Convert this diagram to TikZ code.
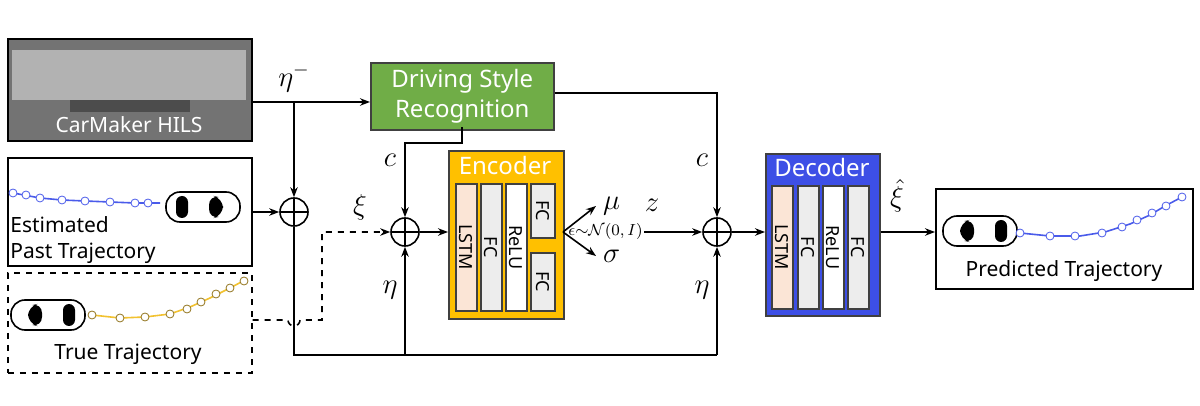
\documentclass[tikz,border=0pt]{standalone}
\usepackage{amsmath,amssymb}
\usepackage{fontspec}
\setmainfont{Noto Sans}
\usetikzlibrary{arrows.meta,positioning,calc}
\definecolor{dsrgreen}{HTML}{70AD47}
\definecolor{encyel}{HTML}{FFC000}
\definecolor{decblue}{HTML}{3D4FE6}
\definecolor{lstmpeach}{HTML}{FBE5D6}
\definecolor{fcgray}{HTML}{EDEDED}
\definecolor{trajblue}{HTML}{4A5BEA}
\definecolor{trajyel}{HTML}{F2C230}

\newcommand{\carshape}[3]{% x, y, direction (1 = facing right)
  \begin{scope}[shift={(#1,#2)}, xscale=#3]
    \draw[thick, fill=white, rounded corners=7pt] (-37,-15) rectangle (37,15);
    \fill[black, rounded corners=3pt] (-27,-11) rectangle (-15,11);
    \fill[black, rounded corners=5pt] (6,-12) -- (20,-9) -- (20,9) -- (6,12) -- cycle;
  \end{scope}}

\begin{document}
\begin{tikzpicture}[x=0.5pt, y=-0.5pt,
  every node/.style={font=\fontsize{10.5}{13}\selectfont},
  srcbox/.style={draw, thick, minimum width=122pt, minimum height=54pt, anchor=north west},
  blockbox/.style={draw=black!75, thick, anchor=north west},
  layer/.style={draw=black!75, thick, anchor=north west, minimum width=10.5pt},
  vlbl/.style={rotate=-90, font=\fontsize{9}{11}\selectfont},
  sumnode/.style={draw, circle, thick, minimum size=14pt, inner sep=0pt,
    path picture={\draw[thick] (path picture bounding box.north) -- (path picture bounding box.south)
      (path picture bounding box.west) -- (path picture bounding box.east);}},
  arr/.style={-{Stealth[length=5pt]}, thick},
  mlbl/.style={font=\fontsize{14}{16}\selectfont},
  dot/.style={circle, draw, fill=white, inner sep=0pt, minimum size=4pt},
]
  \useasboundingbox (0,0) rectangle (1200,406);

  % sources
  \node[srcbox, fill=black!55, draw=black, minimum height=51pt] (hils) at (7,38) {};
  \fill[black!30] (12,50) rectangle (246,100);
  \fill[black!70] (70,100) rectangle (190,112);
  \node[white, anchor=south] (hilstxt) at (129,140) {CarMaker HILS};
  \node[srcbox] (est) at (7,157) {};
  \node[srcbox, dashed, minimum height=50pt] (true) at (7,272) {};

  \draw[trajblue, thick] (13,193) -- (40,198) -- (62,200) -- (85,201) -- (110,202) -- (135,203) -- (160,203);
  \foreach \px/\py in {13/193,26/195,40/198,62/200,85/201,110/202,135/203,148/203}
    \node[dot, draw=trajblue] at (\px,\py) {};
  \carshape{203}{207}{1}
  \node[anchor=north west, align=left, inner sep=0pt] (esttxt) at (10,216) {Estimated\\Past Trajectory};

  \draw[trajyel, thick] (92,315) -- (120,318) -- (145,317) -- (170,314) -- (190,307) -- (210,298) -- (230,288) -- (245,280);
  \foreach \px/\py in {92/315,120/318,145/317,170/314,187/309,201/302,216/294,230/288,244/281}
    \node[dot, draw=black!40!trajyel] at (\px,\py) {};
  \carshape{48}{315}{-1}
  \node (truetxt) at (128,354) {True Trajectory};

  % driving style recognition
  \node[blockbox, fill=dsrgreen, text=white, minimum width=91.5pt, minimum height=32.5pt,
        align=center, font=\fontsize{12}{15}\selectfont] (dsr) at (370,62) {Driving Style\\Recognition};

  % sums
  \node[sumnode] (sum1) at (294,212) {};
  \node[sumnode] (sum2) at (405,232) {};
  \node[sumnode] (sum3) at (717,232) {};

  % encoder
  \node[blockbox, fill=encyel, minimum width=57.5pt, minimum height=84pt] (enc) at (448,150) {};
  \node[text=white, font=\fontsize{12}{14}\selectfont] (enctxt) at (505,166) {Encoder};
  \node[layer, fill=lstmpeach, minimum height=63.5pt] (elstm) at (455,183) {};
  \node[layer, fill=fcgray, minimum height=63.5pt] (efc) at (480,183) {};
  \node[layer, fill=white, minimum height=63.5pt] (erelu) at (505,183) {};
  \node[layer, fill=fcgray, minimum width=12pt, minimum height=27pt] (efca) at (530,183) {};
  \node[layer, fill=fcgray, minimum width=12pt, minimum height=29pt] (efcb) at (530,252) {};
  \node[vlbl] at (elstm.center) {LSTM};
  \node[vlbl] at (efc.center) {FC};
  \node[vlbl] at (erelu.center) {ReLU};
  \node[vlbl] at (efca.center) {FC};
  \node[vlbl] at (efcb.center) {FC};

  % decoder
  \node[blockbox, fill=decblue, minimum width=57pt, minimum height=81pt] (dec) at (765,153) {};
  \node[text=white, font=\fontsize{12}{14}\selectfont] (dectxt) at (822,168) {Decoder};
  \node[layer, fill=lstmpeach, minimum height=61.5pt] (dlstm) at (771,185) {};
  \node[layer, fill=fcgray, minimum height=61.5pt] (dfc) at (797,185) {};
  \node[layer, fill=white, minimum height=61.5pt] (drelu) at (822,185) {};
  \node[layer, fill=fcgray, minimum height=61.5pt] (dfcb) at (847,185) {};
  \node[vlbl] at (dlstm.center) {LSTM};
  \node[vlbl] at (dfc.center) {FC};
  \node[vlbl] at (drelu.center) {ReLU};
  \node[vlbl] at (dfcb.center) {FC};

  % predicted
  \node[srcbox, minimum width=128.5pt, minimum height=50pt] (pred) at (935,188) {};
  \carshape{980}{231}{-1}
  \draw[trajblue, thick] (1020,233) -- (1050,236) -- (1080,236) -- (1105,232) -- (1130,224) -- (1150,215) -- (1165,206) -- (1182,197);
  \foreach \px/\py in {1020/233,1050/236,1075/236,1102/233,1122/227,1137/220,1152/213,1166/206,1182/197}
    \node[dot, draw=trajblue] at (\px,\py) {};
  \node (predtxt) at (1064,271) {Predicted Trajectory};

  % latent
  \node[mlbl, anchor=west] (mu) at (596,206) {$\mu$};
  \node[mlbl, anchor=west] (sig) at (596,256) {$\sigma$};
  \node[font=\fontsize{8}{10}\selectfont, inner sep=0.5pt, anchor=west] (eps) at (567,232) {$\epsilon{\sim}\mathcal{N}(0,I)$};
  \coordinate (encout) at (563,232);

  % connectors
  \coordinate (eta1) at (294,102);
  \draw[arr] (hils.east |- eta1) -- (dsr.west |- eta1);
  \draw[arr] (eta1) -- (sum1.north);
  \draw[arr] (est.east |- sum1) -- (sum1.west);
  \coordinate (bot) at (294,355);
  \draw[thick] (sum1.south) -- (bot) -- (717,355);
  \draw[arr] (405,355) -- (sum2.south);
  \draw[arr] (717,355) -- (sum3.south);
  \draw[arr] (462,127) -- (462,143) -- (405,143) -- (sum2.north);
  \draw[arr] (dsr.east |- 0,93) -- (717,93) -- (sum3.north);
  \draw[arr, dashed] (true.east |- 0,320) -- (288,320) arc (180:0:6) -- (322,320) -- (322,232) -- (sum2.west);
  \draw[arr] (sum2.east) -- (enc.west |- sum2);
  \draw[arr] (encout) -- (mu.west);
  \draw[arr] (encout) -- (sig.west);
  \draw[arr] (eps.east) -- (sum3.west);
  \draw[arr] (sum3.east) -- (dec.west |- sum3);
  \draw[arr] (dec.east |- sum3) -- (pred.west |- sum3);

  % labels
  \node[mlbl] at (294,78) {$\eta^{-}$};
  \node[mlbl] at (390,160) {$c$};
  \node[mlbl] at (360,207) {$\xi$};
  \node[mlbl] at (390,290) {$\eta$};
  \node[mlbl] at (652,205) {$z$};
  \node[mlbl] at (702,160) {$c$};
  \node[mlbl] at (702,290) {$\eta$};
  \node[mlbl, inner sep=1pt] at (897,196) {$\hat{\xi}$};
\end{tikzpicture}
\end{document}
